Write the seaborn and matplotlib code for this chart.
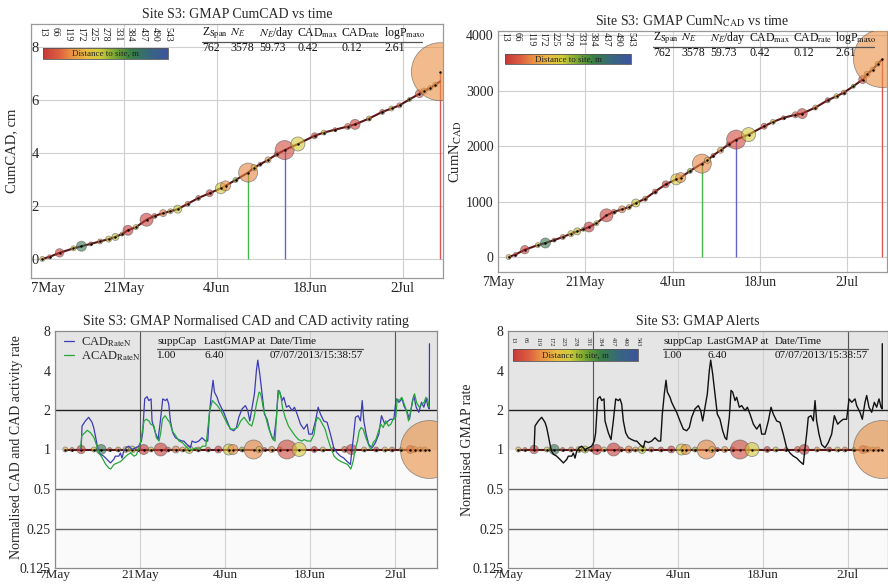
import numpy as np
import matplotlib
matplotlib.use("Agg")
import matplotlib.pyplot as plt
import matplotlib.transforms as mtransforms
from matplotlib.colors import LinearSegmentedColormap, Normalize
from matplotlib.cm import ScalarMappable
from matplotlib.lines import Line2D
import seaborn as sns

# ---------------- data (time in days after 7 May 2013) ----------------
ev_day = [1.7, 2.8, 4.3, 6.4, 7.6, 9.0, 10.4, 11.7, 12.7, 13.7, 14.6, 15.8, 17.4,
          18.6, 19.9, 21.0, 22.1, 23.6, 25.2, 26.9, 28.6, 29.3, 30.8, 32.7, 33.6,
          34.5, 35.7, 37.0, 38.2, 40.2, 42.7, 44.1, 45.8, 47.7, 48.8, 50.9, 52.9,
          54.3, 55.5, 57.0, 58.5, 59.2, 60.1, 60.9, 61.65]
ev_cumcad = [0.00, 0.08, 0.23, 0.40, 0.48, 0.57, 0.66, 0.75, 0.83, 0.94, 1.08, 1.20, 1.48,
             1.62, 1.73, 1.80, 1.88, 2.08, 2.30, 2.48, 2.67, 2.76, 2.98, 3.26, 3.45,
             3.57, 3.74, 3.95, 4.11, 4.34, 4.65, 4.77, 4.88, 5.00, 5.08, 5.30, 5.55,
             5.68, 5.80, 6.02, 6.24, 6.34, 6.45, 6.58, 7.07]
ev_cumn = [0, 45, 132, 215, 253, 305, 361, 421, 463, 500, 541, 610, 752,
           815, 860, 900, 974, 1050, 1180, 1311, 1401, 1432, 1552, 1684, 1744,
           1830, 1925, 2030, 2117, 2208, 2358, 2436, 2510, 2565, 2586, 2695, 2827,
           2900, 2965, 3080, 3200, 3296, 3380, 3480, 3578]
ev_dist = [190, 70, 20, 250, 410, 40, 110, 240, 270, 140, 15, 200, 25,
           60, 110, 170, 260, 100, 60, 20, 240, 130, 300, 120, 210,
           40, 150, 70, 45, 240, 30, 220, 60, 80, 25, 150, 30,
           200, 100, 280, 60, 130, 150, 150, 130]
ev_radius = [2.5, 2, 4.2, 2.5, 5, 2, 2.5, 3, 3.5, 2, 5, 2.5, 6.5,
             2.5, 3.5, 2.5, 4, 2.5, 2.5, 3.5, 5.5, 5, 2.5, 9.5, 3,
             2, 3, 2.5, 9.5, 7, 3, 2.5, 2, 3, 5, 2.5, 2.5,
             2.5, 2.5, 2, 4, 3, 2.5, 2.5, 29]

# last point of the cumulative curves
end_day, end_cumcad, end_cumn = 61.6, 6.70, 3561

# normalised CAD rate (also the GMAP rate)
rate_day = [4.30, 4.45, 5.00, 5.55, 6.10, 6.37, 6.65, 6.92, 7.19, 7.47, 8.02, 8.57, 9.12,
            9.67, 9.94, 10.50, 10.76, 11.04, 11.31, 11.70, 12.14, 12.69, 13.24, 13.78,
            14.22, 14.44, 14.77, 15.16, 15.43, 15.82, 15.98, 16.53, 16.97, 17.35, 17.74,
            18.18, 18.45, 18.73, 19.00, 19.39, 19.83, 20.37, 20.92, 21.20, 21.75, 22.30,
            22.57, 23.12, 23.67, 24.21, 24.76, 25.15, 25.42, 25.75, 26.03, 26.25, 26.69,
            26.96, 27.35, 27.78, 28.33, 28.88, 29.43, 29.87, 30.26, 30.81, 31.35, 31.74,
            32.07, 32.45, 32.84, 33.17, 33.39, 33.71, 34.10, 34.48, 34.92, 35.36, 35.75,
            36.02, 36.46, 36.74, 37.01, 37.40, 37.67, 38.11, 38.50, 39.05, 39.43, 39.87,
            40.42, 40.97, 41.52, 41.79, 42.34, 42.89, 43.33, 43.71, 44.26, 44.81, 45.35,
            45.90, 46.46, 47.00, 47.56, 48.10, 48.65, 48.93, 49.20, 49.47, 49.91, 50.30,
            50.58, 50.85, 51.23, 51.67, 52.22, 52.77, 53.32, 53.76, 54.31, 54.86, 55.24,
            55.79, 56.18, 56.62, 57.17, 57.44, 57.99, 58.37, 58.81, 59.09, 59.47, 59.91,
            60.35, 60.73, 61.12, 61.45, 61.64, 61.66]
rate_val = [1.00, 1.51, 1.65, 1.76, 1.61, 1.47, 1.27, 1.09, 0.97, 0.92, 0.89, 0.84, 0.79,
            0.84, 0.89, 0.89, 0.94, 0.86, 0.97, 1.03, 1.06, 1.00, 1.03, 1.06,
            1.16, 1.34, 2.43, 2.53, 2.36, 2.43, 1.65, 1.34, 1.19, 1.65, 2.43,
            2.36, 2.43, 2.22, 1.65, 1.34, 1.23, 1.19, 1.16, 1.16, 1.09, 1.03,
            1.16, 1.13, 1.16, 1.23, 1.16, 1.16, 1.86, 2.66, 3.37, 2.74, 2.50,
            2.29, 2.10, 1.92, 1.65, 1.43, 1.39, 1.47, 1.76, 2.04, 2.16, 1.98,
            1.65, 2.10, 2.66, 4.02, 4.80, 3.79, 2.66, 1.86, 1.70, 1.39, 1.23,
            1.19, 1.76, 2.82, 2.74, 2.36, 2.50, 2.10, 2.16, 1.98, 2.10, 1.86,
            1.56, 1.43, 1.56, 1.31, 1.31, 1.65, 2.10, 1.86, 1.65, 1.61, 1.31,
            1.03, 0.94, 0.89, 0.86, 0.81, 0.77, 1.03, 1.31, 1.76, 1.81, 1.65,
            2.36, 1.65, 1.31, 1.09, 1.03, 1.13, 1.31, 1.81, 1.56, 1.65, 1.70,
            1.70, 2.43, 2.29, 2.43, 2.16, 1.92, 1.70, 2.29, 2.58, 2.10, 1.92,
            2.29, 2.10, 2.43, 2.10, 2.04, 6.40]

# activity-weighted normalised CAD rate
acad_day = [4.23, 4.40, 5.32, 5.87, 6.42, 6.81, 7.25, 7.79, 8.34, 8.89, 9.17, 9.72, 10.27,
            10.82, 11.36, 11.91, 12.46, 13.01, 13.40, 13.84, 14.11, 14.38, 14.66, 15.04,
            15.48, 15.76, 16.31, 16.69, 17.13, 17.41, 17.68, 18.12, 18.50, 18.89, 19.33,
            19.88, 20.43, 20.97, 21.52, 22.07, 22.62, 23.17, 23.72, 24.27, 24.82, 25.09,
            25.48, 25.92, 26.19, 26.74, 27.29, 27.84, 28.39, 28.94, 29.49, 30.04, 30.59,
            31.13, 31.96, 32.40, 32.78, 33.17, 33.61, 33.88, 34.27, 34.71, 35.15, 35.53,
            35.91, 36.24, 36.46, 36.68, 36.90, 37.18, 37.45, 37.89, 38.44, 38.99, 39.54,
            40.09, 40.64, 41.02, 41.57, 42.12, 42.67, 42.94, 43.22, 43.60, 44.04, 44.48,
            44.87, 45.41, 45.96, 46.51, 47.06, 47.61, 48.16, 48.71, 49.09, 49.42, 49.81,
            50.08, 50.41, 50.74, 51.18, 51.62, 52.00, 52.39, 52.83, 53.27, 53.65, 54.04,
            54.47, 54.91, 55.30, 55.68, 56.12, 56.34, 56.67, 57.11, 57.50, 57.88, 58.21,
            58.59, 58.98, 59.20, 59.53, 59.97, 60.41, 60.79, 61.07, 61.34, 61.61]
acad_val = [1.03, 1.27, 1.40, 1.34, 1.23, 1.09, 0.94, 0.86, 0.77, 0.72, 0.71, 0.77, 0.79,
            0.81, 0.86, 0.91, 0.94, 0.89, 0.91, 1.03, 1.16, 1.38, 1.65, 1.70,
            1.65, 1.56, 1.51, 1.23, 1.16, 1.34, 1.70, 1.81, 1.70, 1.61, 1.38,
            1.27, 1.16, 1.13, 1.06, 1.00, 1.00, 1.03, 1.00, 1.06, 1.06, 1.34,
            1.98, 2.36, 2.29, 2.16, 1.98, 1.76, 1.56, 1.43, 1.43, 1.47, 1.65,
            1.76, 1.56, 1.51, 1.76, 2.22, 2.74, 2.66, 2.10, 1.76, 1.47, 1.31,
            1.19, 1.16, 1.76, 2.43, 2.82, 2.58, 2.10, 1.76, 1.51, 1.38, 1.27,
            1.19, 1.16, 1.19, 1.16, 1.16, 1.31, 1.61, 1.76, 1.70, 1.56, 1.43,
            1.23, 1.03, 0.89, 0.84, 0.81, 0.79, 0.77, 0.71, 0.81, 1.00, 1.16,
            1.38, 1.47, 1.43, 1.23, 1.09, 1.00, 1.13, 1.19, 1.38, 1.56, 1.47,
            1.65, 1.51, 1.56, 1.70, 1.76, 2.43, 2.36, 2.50, 2.22, 1.98, 1.65,
            1.98, 2.43, 2.66, 2.29, 2.10, 2.22, 2.29, 2.50, 2.43, 2.10]

date_ticks = [0, 14, 28, 42, 56]
date_labels = ["7May", "21May", "4Jun", "18Jun", "2Jul"]
dist_ticks = [13, 66, 119, 172, 225, 278, 331, 384, 437, 490, 543]
rate_ticks = [0.125, 0.25, 0.5, 1, 2, 4, 8]
rate_labels = ["0.125", "0.25", "0.5", "1", "2", "4", "8"]

stats_head = [r"Z$_{\mathrm{Span}}$", r"$N_E$", r"$N_E$/day",
              r"CAD$_{\mathrm{max}}$", r"CAD$_{\mathrm{rate}}$", r"logP$_{\mathrm{maxo}}$"]
stats_vals = ["762", "3578", "59.73", "0.42", "0.12", "2.61"]
gmap_head = ["suppCap", "LastGMAP at", "Date/Time"]
gmap_vals = ["1.00", f"{rate_val[-1]:.2f}", "07/07/2013/15:38:57"]

# ---------------- style ----------------
sns.set_style("white")
plt.rcParams["font.family"] = ["Liberation Serif", "DejaVu Serif"]
plt.rcParams["mathtext.fontset"] = "stix"

W, H = 888, 585
fig = plt.figure(figsize=(W / 100, H / 100), dpi=100)


def add_ax(l, t, r, b):
    return fig.add_axes([l / W, 1 - b / H, (r - l) / W, (b - t) / H])


def fx(x):
    return x / W


def fy(y):
    return 1 - y / H


dist_cmap = LinearSegmentedColormap.from_list("dist", [
    (0.00, (0.78, 0.22, 0.22)),
    (0.12, (0.86, 0.36, 0.25)),
    (0.22, (0.91, 0.56, 0.26)),
    (0.35, (0.91, 0.74, 0.26)),
    (0.45, (0.82, 0.80, 0.22)),
    (0.58, (0.46, 0.65, 0.20)),
    (0.70, (0.22, 0.50, 0.26)),
    (0.85, (0.22, 0.40, 0.50)),
    (1.00, (0.23, 0.33, 0.62)),
])
dist_norm = Normalize(13, 543)

ev_size = (2 * np.array(ev_radius) * 0.72) ** 2
ev_face = dist_cmap(dist_norm(np.array(ev_dist)))
ev_face[:, 3] = 0.6
big = sorted(np.argsort(ev_radius)[-3:])
stem_colors = ["#45b84b", "#6262d2", "#d95656"]


def draw_events(ax, yvals, line=True):
    if line:
        sns.lineplot(x=ev_day, y=yvals, ax=ax, color="#5a1414", lw=1.5, zorder=3)
    ax.scatter(ev_day, yvals, s=ev_size, c=ev_face, edgecolors=(0.3, 0.3, 0.3, 0.55),
               linewidths=0.6, zorder=4)
    ax.scatter(ev_day, yvals, s=3, c="k", zorder=5, linewidths=0)


def date_axis(ax, xmax, fs, pad):
    ax.set_xlim(0, xmax)
    ax.set_xticks(date_ticks)
    ax.set_xticklabels(date_labels, fontsize=fs)
    ax.tick_params(axis="x", direction="in", length=3, pad=pad, color="#888888")


def frame(ax, color):
    for s in ax.spines.values():
        s.set_color(color)
        s.set_linewidth(0.9)


def dist_bar(l, t, r, b, lab_fs, txt_fs, gap_px):
    cax = add_ax(l, t, r, b)
    cb = fig.colorbar(ScalarMappable(dist_norm, dist_cmap), cax=cax, orientation="horizontal")
    cb.set_ticks([])
    cb.outline.set_edgecolor("#555555")
    cb.outline.set_linewidth(0.6)
    tr = mtransforms.blended_transform_factory(cax.transData, cax.transAxes)
    for v in dist_ticks:
        cax.text(v, 1 + gap_px / (b - t), str(v), transform=tr, rotation=-90,
                 rotation_mode="anchor", ha="left", va="center", fontsize=lab_fs,
                 color="#222222")
    cax.text(0.5, 0.45, "Distance to site, m", transform=cax.transAxes, ha="center",
             va="center", fontsize=txt_fs, color="#222222")


def table(xs, y_head, y_line, y_val, x_end, heads, vals, fs):
    for x, h, v in zip(xs, heads, vals):
        fig.text(fx(x), fy(y_head), h, ha="left", va="center", fontsize=fs, color="#111111")
        fig.text(fx(x), fy(y_val), v, ha="left", va="center", fontsize=fs, color="#111111")
    fig.add_artist(Line2D([fx(xs[0]), fx(x_end)], [fy(y_line), fy(y_line)],
                          color="#555555", lw=0.9))


# ---------------- top left: cumulative CAD ----------------
ax1 = add_ax(31, 24, 443, 278)
ax1.grid(True, color="#cfcfcf", lw=0.8)
ax1.set_axisbelow(True)
curve_day = ev_day[:-1] + [end_day]
curve_cad = ev_cumcad[:-1] + [end_cumcad]
curve_n = ev_cumn[:-1] + [end_cumn]
for c, i in zip(stem_colors, big):
    ax1.vlines(ev_day[i], 0, ev_cumcad[i], color=c, lw=1.0, zorder=2)
sns.lineplot(x=curve_day, y=curve_cad, ax=ax1, color="#5a1414", lw=1.5, zorder=3)
draw_events(ax1, ev_cumcad, line=False)
ax1.set_ylim(-0.72, 8.87)
ax1.set_yticks([0, 2, 4, 6, 8])
ax1.set_yticklabels(["0", "2", "4", "6", "8"], fontsize=10.5)
ax1.tick_params(axis="y", direction="in", length=3, pad=-5.5, color="#888888")
date_axis(ax1, 62.05, 10.5, 3)
ax1.get_xticklabels()[0].set_horizontalalignment("left")
ax1.set_ylabel("CumCAD, cm", fontsize=10.5)
ax1.yaxis.set_label_coords(-0.031, 0.5)
ax1.set_title("Site S3: GMAP CumCAD vs time", fontsize=10, pad=4)
frame(ax1, "#9a9a9a")
dist_bar(43, 48, 168, 59, 7, 6.5, 21)
table([202, 230, 259, 297, 341, 384], 33, 41.5, 48, 422, stats_head, stats_vals, 8.5)

# ---------------- top right: cumulative number ----------------
ax2 = add_ax(498, 31, 887, 272)
ax2.grid(True, color="#cfcfcf", lw=0.8)
ax2.set_axisbelow(True)
for c, i in zip(stem_colors, big):
    ax2.vlines(ev_day[i], 0, ev_cumn[i], color=c, lw=1.0, zorder=2)
sns.lineplot(x=curve_day, y=curve_n, ax=ax2, color="#5a1414", lw=1.5, zorder=3)
draw_events(ax2, ev_cumn, line=False)
ax2.set_ylim(-270, 4075)
ax2.set_yticks([0, 1000, 2000, 3000, 4000])
ax2.set_yticklabels(["0", "1000", "2000", "3000", "4000"], fontsize=10)
ax2.tick_params(axis="y", direction="in", length=3, pad=3, color="#888888")
date_axis(ax2, 62.4, 10, 3)
ax2.set_ylabel(r"CumN$_{\mathrm{CAD}}$", fontsize=10.5)
ax2.yaxis.set_label_coords(-0.087, 0.5)
ax2.set_title(r"Site S3: GMAP CumN$_{\mathrm{CAD}}$ vs time", fontsize=10, pad=4)
frame(ax2, "#9a9a9a")
dist_bar(505, 54, 631, 64, 7, 6.5, 22)
table([653, 681, 710, 749, 793, 835], 38, 46.5, 53, 874, stats_head, stats_vals, 8.5)


# ---------------- bottom panels: normalised rates ----------------
def rate_axes(ax, xmax):
    ax.set_yscale("log", base=2)
    ax.set_ylim(0.125, 8)
    ax.set_facecolor("#fafafa")
    ax.axhspan(1, 8, color="#e5e5e5", zorder=0, lw=0)
    for d in date_ticks:
        ax.axvline(d, color="#d0d0d0", lw=0.8, zorder=1)
    for d in (date_ticks[1], date_ticks[4]):
        ax.vlines(d, 1, 8, color="#555555", lw=0.8, zorder=1)
    ax.axhline(2, color="#222222", lw=1.0, zorder=1)
    for v in (0.5, 0.25):
        ax.axhline(v, color="#666666", lw=1.0, zorder=1)
    ax.set_yticks(rate_ticks)
    ax.set_yticklabels(rate_labels, fontsize=10)
    ax.minorticks_off()
    ax.tick_params(axis="y", direction="in", length=3, pad=3, color="#888888")
    date_axis(ax, xmax, 9.5, 1)
    frame(ax, "#8a8a8a")


ax3 = add_ax(55, 331, 437, 568)
rate_axes(ax3, 62.9)
sns.lineplot(x=rate_day, y=rate_val, ax=ax3, color="#3b3bb8", lw=0.9, zorder=6,
             label=r"CAD$_{\mathrm{RateN}}$")
sns.lineplot(x=acad_day, y=acad_val, ax=ax3, color="#25a83a", lw=0.9, zorder=6,
             label=r"ACAD$_{\mathrm{RateN}}$")
draw_events(ax3, [1.0] * len(ev_day))
leg = ax3.legend(loc="upper left", bbox_to_anchor=(0.0, 1.02), frameon=False, fontsize=9,
                 handlelength=0.8, handletextpad=0.6, labelspacing=0.05, borderaxespad=0.3)
ax3.set_ylabel("Normalised CAD and CAD activity rate", fontsize=10)
ax3.yaxis.set_label_coords(-0.084, 0.51)
ax3.set_title("Site S3: GMAP Normalised CAD and CAD activity rating", fontsize=10, pad=4)
table([157, 204, 270], 342, 349, 356, 363, gmap_head, gmap_vals, 8)

ax4 = add_ax(508, 331, 888, 568)
rate_axes(ax4, 62.6)
sns.lineplot(x=rate_day, y=rate_val, ax=ax4, color="#111111", lw=1.0, zorder=6)
draw_events(ax4, [1.0] * len(ev_day))
ax4.set_ylabel("Normalised GMAP rate", fontsize=10)
ax4.yaxis.set_label_coords(-0.089, 0.5)
ax4.set_title("Site S3: GMAP Alerts", fontsize=10, pad=4)
dist_bar(513, 349, 638, 361, 4.5, 6.5, 12)
table([663, 707, 775], 342, 349, 356, 868, gmap_head, gmap_vals, 8)

for ax in (ax1, ax2, ax3, ax4):
    ax.set_xlabel("")

fig.savefig("out.png", dpi=100)
